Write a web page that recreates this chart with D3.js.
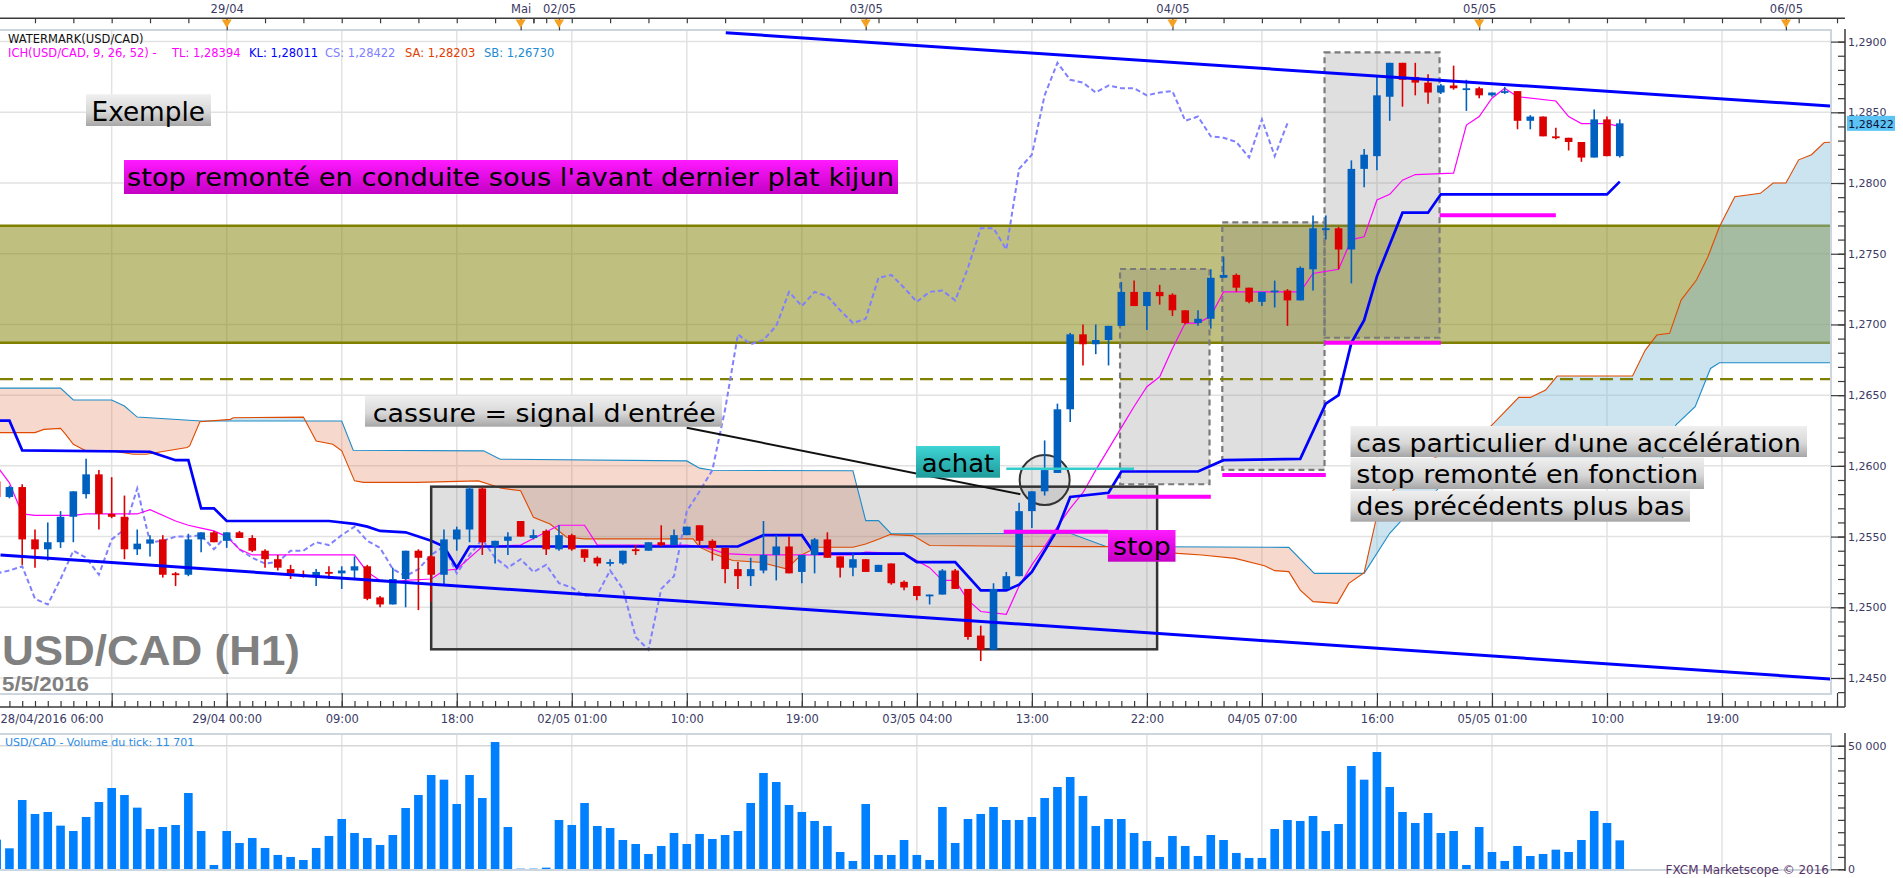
<!DOCTYPE html>
<html>
<head>
<meta charset="utf-8">
<script src="https://cdn.jsdelivr.net/npm/d3@7"></script>
<style>
  body { margin: 0; background: #fff; }
  svg { display: block; font-family: "DejaVu Sans", Verdana, sans-serif; }
</style>
</head>
<body>
<div id="chart"></div>
<script>
// ---- data (USD/CAD H1, bar 0 = 29/04 00:00) ----
const firstBar = -18;
const opens = [1.2589,1.2578,1.2585,1.2548,1.2541,1.2546,1.2564,1.2580,1.2594,1.2566,1.2564,1.2541,1.2545,1.2548,1.2524,1.2523,1.2548,1.2553,
  1.2547,1.2553,1.2549,1.2540,1.2534,1.2527,1.2523,1.2522,1.2525,1.2524,1.2526,1.2529,1.2507,1.2502,1.2520,1.2540,1.2536,1.2523,1.2548,1.2555,
  1.2584,1.2543,1.2547,1.2561,1.2549,1.2554,1.2541,1.2551,1.2541,1.2535,1.2531,1.2531,1.2541,1.2540,1.2546,1.2544,1.2551,1.2558,1.2547,1.2542,
  1.2527,1.2522,1.2526,1.2537,1.2543,1.2525,1.2537,1.2548,1.2536,1.2528,1.2534,1.2525,1.2531,1.2518,1.2515,1.2508,1.2509,1.2526,1.2513,1.2480,
  1.2470,1.2513,1.2522,1.2568,1.2582,1.2595,1.2640,1.2693,1.2686,1.2689,1.2699,1.2723,1.2713,1.2723,1.2721,1.2710,1.2701,1.2704,1.2733,1.2735,
  1.2726,1.2716,1.2723,1.2724,1.2717,1.2739,1.2767,1.2768,1.2753,1.2810,1.2819,1.2861,1.2885,1.2875,1.2871,1.2864,1.2869,1.2866,1.2867,1.2862,
  1.2864,1.2865,1.2844,1.2847,1.2833,1.2832,1.2829,1.2818,1.2845,1.2819];
const highs = [1.2591,1.2586,1.2587,1.2555,1.2560,1.2568,1.2582,1.2605,1.2597,1.2592,1.2579,1.2555,1.2551,1.2551,1.2525,1.2552,1.2553,1.2554,
  1.2553,1.2554,1.2551,1.2541,1.2537,1.2530,1.2526,1.2527,1.2529,1.2529,1.2536,1.2530,1.2508,1.2528,1.2540,1.2541,1.2537,1.2555,1.2557,1.2586,
  1.2585,1.2547,1.2553,1.2561,1.2555,1.2555,1.2558,1.2552,1.2541,1.2536,1.2534,1.2540,1.2544,1.2546,1.2558,1.2555,1.2557,1.2558,1.2548,1.2542,
  1.2532,1.2535,1.2561,1.2551,1.2550,1.2537,1.2549,1.2553,1.2536,1.2538,1.2534,1.2530,1.2531,1.2519,1.2515,1.2509,1.2527,1.2527,1.2513,1.2487,
  1.2517,1.2525,1.2574,1.2582,1.2618,1.2644,1.2694,1.2700,1.2700,1.2699,1.2730,1.2731,1.2723,1.2728,1.2722,1.2710,1.2710,1.2739,1.2748,1.2736,
  1.2726,1.2723,1.2731,1.2725,1.2741,1.2777,1.2777,1.2769,1.2816,1.2824,1.2875,1.2885,1.2885,1.2885,1.2877,1.2870,1.2883,1.2873,1.2868,1.2864,
  1.2868,1.2865,1.2848,1.2847,1.2839,1.2832,1.2829,1.2852,1.2847,1.2845];
const lows = [1.2576,1.2577,1.2530,1.2528,1.2533,1.2542,1.2546,1.2577,1.2555,1.2563,1.2534,1.2537,1.2536,1.2521,1.2515,1.2522,1.2539,1.2546,
  1.2542,1.2549,1.2539,1.2528,1.2526,1.2520,1.2521,1.2515,1.2520,1.2513,1.2520,1.2505,1.2500,1.2502,1.2500,1.2498,1.2504,1.2515,1.2540,1.2546,
  1.2537,1.2531,1.2537,1.2550,1.2548,1.2537,1.2540,1.2540,1.2532,1.2529,1.2529,1.2530,1.2537,1.2540,1.2543,1.2544,1.2551,1.2544,1.2533,1.2517,
  1.2513,1.2515,1.2524,1.2519,1.2524,1.2517,1.2524,1.2535,1.2521,1.2522,1.2525,1.2525,1.2516,1.2512,1.2505,1.2502,1.2509,1.2513,1.2477,1.2462,
  1.2470,1.2513,1.2522,1.2556,1.2579,1.2595,1.2631,1.2671,1.2679,1.2671,1.2699,1.2713,1.2696,1.2714,1.2706,1.2700,1.2699,1.2697,1.2733,1.2723,
  1.2715,1.2713,1.2712,1.2699,1.2717,1.2724,1.2760,1.2739,1.2729,1.2797,1.2809,1.2844,1.2854,1.2862,1.2856,1.2863,1.2866,1.2851,1.2860,1.2861,
  1.2863,1.2838,1.2838,1.2833,1.2831,1.2823,1.2815,1.2818,1.2819,1.2818];
const closes = [1.2578,1.2585,1.2548,1.2541,1.2546,1.2564,1.2582,1.2594,1.2566,1.2564,1.2541,1.2545,1.2548,1.2523,1.2523,1.2548,1.2553,1.2546,
  1.2553,1.2549,1.2540,1.2534,1.2528,1.2524,1.2522,1.2525,1.2524,1.2526,1.2529,1.2506,1.2502,1.2520,1.2540,1.2535,1.2523,1.2548,1.2555,1.2584,
  1.2546,1.2547,1.2550,1.2550,1.2551,1.2541,1.2551,1.2541,1.2535,1.2531,1.2532,1.2540,1.2540,1.2546,1.2544,1.2551,1.2557,1.2547,1.2542,1.2527,
  1.2522,1.2527,1.2537,1.2543,1.2524,1.2537,1.2548,1.2535,1.2528,1.2534,1.2525,1.2530,1.2517,1.2514,1.2508,1.2509,1.2526,1.2513,1.2479,1.2470,
  1.2513,1.2522,1.2568,1.2582,1.2597,1.2640,1.2693,1.2686,1.2689,1.2699,1.2723,1.2713,1.2723,1.2720,1.2710,1.2701,1.2704,1.2733,1.2735,1.2726,
  1.2716,1.2723,1.2724,1.2717,1.2740,1.2768,1.2768,1.2753,1.2810,1.2820,1.2862,1.2885,1.2873,1.2871,1.2864,1.2869,1.2867,1.2867,1.2862,1.2864,
  1.2865,1.2844,1.2847,1.2833,1.2832,1.2829,1.2818,1.2845,1.2819,1.28422];
const volumes = [12000,8490,28040,22380,23190,17660,15500,21160,27230,32890,30060,24940,16310,17120,17930,30870,15500,1750,
  15500,10650,12670,8630,5800,4990,3770,8630,13480,20350,14690,12670,9840,13880,24800,30060,38150,36260,26420,38150,
  28850,51490,17120,270,270,670,19950,17930,26830,17520,16720,11860,10240,6200,9440,14690,10240,14290,12270,13880,
  15500,26830,38960,35320,26020,23190,19550,17520,7010,3370,26420,5800,5800,11860,5800,3770,25210,10650,20350,22380,
  25210,19950,19950,21160,28850,33300,37340,29660,17520,20350,20350,14690,11460,4990,13480,9440,5390,13880,11860,6610,
  4580,4580,16310,19950,19550,21570,15500,18330,41790,36260,47450,33300,23190,18740,22780,14690,15500,1750,17120,7010,
  3370,9440,5390,6200,7950,7010,11860,23590,18740,11701];

// ichimoku lines as [bar, price] points
const kijun = [[-18,1.2632],[-17,1.2632],[-16,1.2611],[-6,1.2610],[-5,1.2607],[-4,1.2604],[-3,1.2604],[-2,1.2570],[-1,1.2570],[0,1.2561],
  [8,1.2561],[10,1.2559],[11,1.2557],[12,1.2554],[14,1.2553],[16,1.2547],[17,1.2543],[18,1.2528],[19,1.2543],[40,1.2543],[42,1.2551],
  [45,1.2551],[46,1.2538],[53,1.2538],[54,1.2532],[57,1.2532],[59,1.2512],[61,1.2512],[62,1.2516],[63,1.2525],[64,1.2540],[65,1.2555],
  [66,1.2578],[69,1.2581],[70,1.2596],[76,1.2596],[78,1.2604],[84,1.2605],[86,1.2644],[87,1.2650],[88,1.2687],[89,1.2703],[90,1.2734],
  [92,1.2779],[94,1.2779],[95,1.2792],[108,1.2792],[109,1.2801]];
const tenkan = [[-18,1.2600],[-17,1.2588],[-16,1.2566],[-15,1.2565],[-12,1.2565],[-11,1.2566],[-7,1.2566],[-6,1.2569],[-4,1.2561],
  [-3,1.2558],[-2,1.2556],[-1,1.2554],[0,1.2550],[1,1.2541],[2,1.2537],[10,1.2537],[11,1.2525],[12,1.2519],[13,1.2518],[14,1.2519],
  [16,1.2520],[17,1.2526],[18,1.2527],[20,1.2543],[23,1.2544],[26,1.2558],[28,1.2558],[29,1.2544],[36,1.2544],[37,1.2543],[38,1.2541],
  [39,1.2538],[41,1.2537],[49,1.2537],[50,1.2539],[53,1.2538],[54,1.2533],[55,1.2528],[56,1.2519],[57,1.2519],[58,1.2505],[59,1.2497],
  [60,1.2496],[61,1.2495],[62,1.2515],[63,1.2530],[64,1.2543],[65,1.2557],[66,1.2570],[67,1.2581],[68,1.2597],[69,1.2612],[70,1.2627],
  [71,1.2642],[72,1.2656],[73,1.2663],[74,1.2683],[75,1.2701],[76,1.2701],[77,1.2706],[78,1.2723],[84,1.2723],[85,1.2736],[87,1.2739],
  [88,1.2760],[89,1.2762],[90,1.2788],[91,1.2792],[92,1.2802],[93,1.2806],[96,1.2807],[97,1.2841],[98,1.2847],[99,1.2860],[100,1.2867],
  [101,1.2861],[104,1.2858],[105,1.2847],[106,1.2842],[108,1.2842],[109,1.2840]];
const senkouA = [[-18,1.26235],[-15,1.26235],[-14.3,1.26258],[-13,1.26265],[-12.6,1.26223],[-12,1.26153],[-11,1.26106],[-9,1.26106],
  [-7.3,1.26082],[-6.3,1.26082],[-3.1,1.2613],[-2.9,1.26141],[-2.1,1.26312],[0.3,1.26329],[0.5,1.2634],[6,1.26345],[7,1.26176],
  [8.3,1.26153],[9,1.26106],[10,1.25894],[10.7,1.25883],[14.9,1.25883],[19.7,1.25894],[20.9,1.25859],[21.4,1.25843],[23,1.25824],
  [24,1.25636],[25.3,1.25589],[26.6,1.25495],[28,1.25484],[36.5,1.25484],[37,1.25425],[38.1,1.25378],[39.6,1.25331],[41.7,1.25319],
  [43.8,1.25272],[44.9,1.25366],[46.2,1.25425],[49,1.25425],[50,1.25448],[51.1,1.25484],[51.9,1.25514],[53.7,1.25507],[55,1.25437],
  [62,1.25432],[66.8,1.25429],[69,1.2543],[74.4,1.25381],[76.3,1.2537],[78.9,1.25346],[81.2,1.25294],[82,1.25259],[83.1,1.25252],
  [84,1.25122],[85,1.2504],[86.9,1.25028],[87.8,1.25169],[89,1.25245],[90,1.2565],[91,1.2580],[92,1.2590],[93,1.2598],[95,1.2608],
  [97,1.2618],[98.9,1.2628],[101.1,1.26484],[102,1.26484],[103.2,1.26536],[104.1,1.26635],[110,1.26635],[111,1.26819],[111.9,1.26925],
  [112.9,1.26937],[113.8,1.27172],[115,1.27314],[115.9,1.27479],[116.8,1.27691],[118,1.27903],[120,1.27927],[121,1.2800],[122,1.2800],
  [123,1.28164],[124,1.2820],[125,1.28286],[126,1.2829]];
const senkouB = [[-18,1.2655],[-13,1.2655],[-12,1.26466],[-9,1.26466],[-8,1.26423],[-7,1.26345],[-2,1.26317],[9,1.26317],[9.9,1.2611],
  [20.1,1.26106],[21.4,1.26047],[36,1.26035],[37,1.25984],[38,1.25969],[49,1.25965],[50,1.25613],[51,1.25613],[52,1.25519],[66,1.25523],
  [68.8,1.2543],[83.1,1.25424],[85.1,1.2524],[89,1.2524],[91,1.25523],[93,1.2572],[94.6,1.2582],[96,1.2596],[112,1.2598],[113.4,1.2629],
  [114.9,1.26418],[116.1,1.26689],[116.8,1.26729],[126,1.26729]];
const chikouShift = 26;

// hand-drawn objects on the chart
const trendUpper = [[39.05,1.29062],[125.5,1.28544]];
const trendLower = [[-17.7,1.2537],[125.5,1.24493]];
const zoneBand = [1.26871, 1.27698];
const dashedLevel = 1.26614;
const solidRect = [16.0, 72.8, 1.24703, 1.25853];
const dashedRects = [[69.9,76.9,1.2587,1.27392],[77.9,85.9,1.25971,1.27722],[85.9,94.9,1.26906,1.28924]];
const stopLines = [[60.8,69,1.25534],[68.9,77,1.25782],[77.9,86,1.25935],[85.9,95,1.26871],[94.9,104,1.27773]];
const achatLine = [61, 71, 1.2598];
const circleAt = [64.0, 1.2590];
const connector = [[36.0,1.2627],[62.1,1.2580]];

// axes labels
const priceTicks = [1.2450,1.2500,1.2550,1.2600,1.2650,1.2700,1.2750,1.2800,1.2850,1.2900];
const timeTickBars = [-18,-9,0,9,18,27,36,45,54,63,72,81,90,99,108,117,126];
const timeTickLabels = ["28/04/2016 06:00","","29/04 00:00","09:00","18:00","02/05 01:00","10:00","19:00","03/05 04:00",
  "13:00","22:00","04/05 07:00","16:00","05/05 01:00","10:00","19:00",""];
const dayBars = [0,23,26,50,74,98,122];
const dayLabels = ["29/04","Mai","02/05","03/05","04/05","05/05","06/05"];
const volumeTicks = [0, 50000];
const volumeTickLabels = ["0", "50 000"];

// ---- layout ----
const W = 1903, H = 878;
const plotR = 1830, plotT = 31, plotB = 693;
const volT = 735, volB = 870;
const axisX = 1845;

const x = d3.scaleLinear().domain([0, 117]).range([226.7, 1722]);
const y = d3.scaleLinear().domain([1.2450, 1.2900]).range([678, 41.6]);
const yv = d3.scaleLinear().domain([0, 50000]).range([869.3, 745.7]);
const fmtP = p => d3.format(".4f")(p).replace(".", ",");

const bars = closes.map((c, i) => ({bar: firstBar + i, o: opens[i], h: highs[i], l: lows[i], c: c, v: volumes[i]}));
const chikou = bars.filter(d => d.bar + chikouShift <= firstBar + closes.length - 1)
                   .map(d => [d.bar, closes[d.bar + chikouShift - firstBar]]);
const lastClose = closes[closes.length - 1];

const svg = d3.select("#chart").append("svg")
  .attr("width", W).attr("height", H).attr("viewBox", [0, 0, W, H]);
const defs = svg.append("defs");

function grad(id, stops) {
  const g = defs.append("linearGradient").attr("id", id)
    .attr("x1", 0).attr("y1", 0).attr("x2", 0).attr("y2", 1);
  stops.forEach(s => g.append("stop").attr("offset", s[0]).attr("stop-color", s[1]));
}
grad("gGrey", [[0, "#efefef"], [0.55, "#d8d8d8"], [1, "#a6a6a6"]]);
grad("gMag", [[0, "#ff1aff"], [1, "#c400c4"]]);
grad("gTeal", [[0, "#3fd4d4"], [1, "#1f9a9a"]]);

defs.append("clipPath").attr("id", "plotClip").append("rect")
  .attr("x", 0).attr("y", plotT).attr("width", plotR).attr("height", plotB - plotT);
defs.append("clipPath").attr("id", "volClip").append("rect")
  .attr("x", 0).attr("y", volT).attr("width", plotR).attr("height", volB - volT);

const line = d3.line().x(d => x(d[0])).y(d => y(d[1]));

// cloud clips: region above / below senkou A
const aFirst = senkouA[0][0], aLast = senkouA[senkouA.length - 1][0];
defs.append("clipPath").attr("id", "aboveA").append("path")
  .attr("d", line(senkouA) + `L${x(aLast) + 50},0L${x(aFirst) - 50},0Z`);
defs.append("clipPath").attr("id", "belowA").append("path")
  .attr("d", line(senkouA) + `L${x(aLast) + 50},${H}L${x(aFirst) - 50},${H}Z`);

// ---- panel backgrounds & grid ----
const grid = svg.append("g").attr("stroke", "#e2e2e2").attr("stroke-width", 1.5);
grid.selectAll(".hg").data(priceTicks).join("line")
  .attr("x1", 0).attr("x2", plotR).attr("y1", d => y(d)).attr("y2", d => y(d));
grid.selectAll(".vg").data(timeTickBars.filter(b => x(b) > 0 && x(b) < plotR)).join("line")
  .attr("x1", d => x(d)).attr("x2", d => x(d)).attr("y1", plotT).attr("y2", plotB);
grid.selectAll(".vvg").data(timeTickBars.filter(b => x(b) > 0 && x(b) < plotR)).join("line")
  .attr("x1", d => x(d)).attr("x2", d => x(d)).attr("y1", volT).attr("y2", volB);
grid.append("line").attr("x1", 0).attr("x2", plotR).attr("y1", yv(50000)).attr("y2", yv(50000)).attr("stroke", "#d6d6d6");

// watermark
svg.append("text").attr("x", 2).attr("y", 665).attr("fill", "#808080")
  .style("font-family", "'Liberation Sans', Arial, sans-serif").style("font-weight", "bold").style("font-size", "42px")
  .attr("textLength", 298).attr("lengthAdjust", "spacingAndGlyphs").text("USD/CAD (H1)");
svg.append("text").attr("x", 2).attr("y", 691).attr("fill", "#808080")
  .style("font-family", "'Liberation Sans', Arial, sans-serif").style("font-weight", "bold").style("font-size", "21px")
  .attr("textLength", 87).attr("lengthAdjust", "spacingAndGlyphs").text("5/5/2016");

const main = svg.append("g").attr("clip-path", "url(#plotClip)");

// olive resistance zone
main.append("rect").attr("x", 0).attr("width", plotR)
  .attr("y", y(zoneBand[1])).attr("height", y(zoneBand[0]) - y(zoneBand[1]))
  .attr("fill", "rgba(128,128,0,0.5)");
main.selectAll(".zb").data(zoneBand).join("line")
  .attr("x1", 0).attr("x2", plotR).attr("y1", d => y(d)).attr("y2", d => y(d))
  .attr("stroke", "#7f7f00").attr("stroke-width", 2.5);

// kumo
const cloudPoly = line(senkouA.concat(senkouB.slice().reverse())) + "Z";
main.append("path").attr("d", cloudPoly).attr("fill", "rgba(225,125,85,0.3)").attr("clip-path", "url(#aboveA)");
main.append("path").attr("d", cloudPoly).attr("fill", "rgba(128,185,218,0.4)").attr("clip-path", "url(#belowA)");

// grey rectangles
main.append("rect")
  .attr("x", x(solidRect[0])).attr("width", x(solidRect[1]) - x(solidRect[0]))
  .attr("y", y(solidRect[3])).attr("height", y(solidRect[2]) - y(solidRect[3]))
  .attr("fill", "rgba(128,128,128,0.25)");
main.selectAll(".dr").data(dashedRects).join("rect")
  .attr("x", d => x(d[0])).attr("width", d => x(d[1]) - x(d[0]))
  .attr("y", d => y(d[3])).attr("height", d => y(d[2]) - y(d[3]))
  .attr("fill", "rgba(128,128,128,0.25)")
  .attr("stroke", "#7a7a7a").attr("stroke-width", 2.2).attr("stroke-dasharray", "6,4");

// dashed olive level
main.append("line").attr("x1", 0).attr("x2", plotR).attr("y1", y(dashedLevel)).attr("y2", y(dashedLevel))
  .attr("stroke", "#808000").attr("stroke-width", 2.2).attr("stroke-dasharray", "13,7");

// circle around the breakout
main.append("circle").attr("cx", x(circleAt[0])).attr("cy", y(circleAt[1])).attr("r", 25)
  .attr("fill", "rgba(128,128,128,0.2)").attr("stroke", "#333").attr("stroke-width", 2);

// ichimoku lines
main.append("path").attr("d", line(senkouB)).attr("fill", "none").attr("stroke", "#1e8cc8").attr("stroke-width", 1.1);
main.append("path").attr("d", line(senkouA)).attr("fill", "none").attr("stroke", "#e04a00").attr("stroke-width", 1.1);
main.append("path").attr("d", line(chikou)).attr("fill", "none").attr("stroke", "#8080ff")
  .attr("stroke-width", 2).attr("stroke-dasharray", "5,3");
main.append("path").attr("d", line(tenkan)).attr("fill", "none").attr("stroke", "#ff00ff").attr("stroke-width", 1.2);
main.append("path").attr("d", line(kijun)).attr("fill", "none").attr("stroke", "#0000ff").attr("stroke-width", 2.7);

// solid frame of the consolidation box
main.append("rect")
  .attr("x", x(solidRect[0])).attr("width", x(solidRect[1]) - x(solidRect[0]))
  .attr("y", y(solidRect[3])).attr("height", y(solidRect[2]) - y(solidRect[3]))
  .attr("fill", "none").attr("stroke", "#333").attr("stroke-width", 2.5);

// candles
const up = "#0060c0", down = "#dd0000";
const candle = main.append("g").selectAll("g").data(bars).join("g")
  .attr("fill", d => d.c >= d.o ? up : down).attr("stroke", d => d.c >= d.o ? up : down);
candle.append("line")
  .attr("x1", d => x(d.bar)).attr("x2", d => x(d.bar))
  .attr("y1", d => y(d.h)).attr("y2", d => y(d.l)).attr("stroke-width", 1.6);
candle.append("rect")
  .attr("x", d => x(d.bar) - 3.8).attr("width", 7.6)
  .attr("y", d => Math.min(y(d.o), y(d.c)))
  .attr("height", d => Math.max(1.8, Math.abs(y(d.o) - y(d.c))))
  .attr("stroke", "none");

// trend lines
main.selectAll(".tl").data([trendUpper, trendLower]).join("path")
  .attr("d", d => line(d)).attr("fill", "none").attr("stroke", "#0000ff").attr("stroke-width", 3);

// stop levels, entry level, connector
main.selectAll(".sl").data(stopLines).join("line")
  .attr("x1", d => x(d[0])).attr("x2", d => x(d[1])).attr("y1", d => y(d[2])).attr("y2", d => y(d[2]))
  .attr("stroke", "#ff00ff").attr("stroke-width", 4);
main.append("line").attr("x1", x(achatLine[0])).attr("x2", x(achatLine[1]))
  .attr("y1", y(achatLine[2])).attr("y2", y(achatLine[2])).attr("stroke", "#33cccc").attr("stroke-width", 2.5);
main.append("path").attr("d", line(connector)).attr("stroke", "#111").attr("stroke-width", 2).attr("fill", "none");

// ---- volume panel ----
svg.append("g").attr("clip-path", "url(#volClip)").selectAll("rect").data(bars).join("rect")
  .attr("x", d => x(d.bar) - 4.3).attr("width", 8.6)
  .attr("y", d => yv(d.v)).attr("height", d => yv(0) - yv(d.v))
  .attr("fill", "#0080ff");

// panel borders
const border = svg.append("g").attr("fill", "none").attr("stroke", "#cdd5df").attr("stroke-width", 2);
border.append("path").attr("d", `M0,${plotT - 1}H${plotR + 1}V${plotB + 1}H0`);
border.append("path").attr("d", `M0,${volT - 1}H${plotR + 1}V${volB}H0`);

// ---- axes ----
function styleAxis(g, size) {
  g.select(".domain").remove();
  g.selectAll(".tick line").attr("stroke", "#3a3a3a").attr("stroke-width", 1.2);
  g.selectAll(".tick text").attr("fill", "#3a3a64")
    .style("font-family", "'DejaVu Sans', Verdana, sans-serif").style("font-size", size || "11px");
}
const axisLines = svg.append("g").attr("stroke", "#3a3a3a").attr("stroke-width", 1.5);
axisLines.append("line").attr("x1", axisX).attr("x2", axisX).attr("y1", plotT - 2).attr("y2", 707);
axisLines.append("line").attr("x1", axisX).attr("x2", axisX).attr("y1", volT - 2).attr("y2", volB + 1);
axisLines.append("line").attr("x1", 0).attr("x2", axisX).attr("y1", 707).attr("y2", 707);
axisLines.append("line").attr("x1", 0).attr("x2", axisX).attr("y1", 18.3).attr("y2", 18.3);

// right price axis
const minorPrices = d3.range(1244, 1291).map(v => v / 1000);
svg.append("g").attr("transform", `translate(${axisX},0)`)
  .call(d3.axisRight(y).tickValues(minorPrices).tickSize(-7).tickFormat(""))
  .call(g => styleAxis(g));
svg.append("g").attr("transform", `translate(${axisX},0)`)
  .call(d3.axisRight(y).tickValues(priceTicks).tickSize(-14).tickPadding(3).tickFormat(fmtP))
  .call(g => styleAxis(g));

// volume axis
svg.append("g").attr("transform", `translate(${axisX},0)`)
  .call(d3.axisRight(yv).tickValues(d3.range(0, 50001, 5000)).tickSize(-7).tickFormat(""))
  .call(g => styleAxis(g));
svg.append("g").attr("transform", `translate(${axisX},0)`)
  .call(d3.axisRight(yv).tickValues(volumeTicks).tickSize(-14).tickPadding(3)
    .tickFormat((d, i) => volumeTickLabels[i]))
  .call(g => styleAxis(g));

// bottom time axis
svg.append("g").attr("transform", "translate(0,707)")
  .call(d3.axisBottom(x).tickValues(d3.range(-18, 127)).tickSize(-6).tickFormat(""))
  .call(g => styleAxis(g));
svg.append("g").attr("transform", "translate(0,707)")
  .call(d3.axisBottom(x).tickValues(timeTickBars).tickSize(-14).tickPadding(8)
    .tickFormat((d, i) => timeTickLabels[i]))
  .call(g => styleAxis(g, "11.5px"))
  .call(g => g.selectAll(".tick text").filter(d => d === firstBar)
    .attr("text-anchor", "start").attr("x", -x(firstBar)));

// top date axis
svg.append("g").attr("transform", "translate(0,18.3)")
  .call(d3.axisTop(x).tickValues(d3.range(-18, 127, 3).concat([24, 25])).tickSize(-5).tickFormat(""))
  .call(g => styleAxis(g));
svg.append("g").attr("transform", "translate(0,18.3)")
  .call(d3.axisTop(x).tickValues(dayBars).tickSize(-12).tickPadding(5).tickFormat((d, i) => dayLabels[i]))
  .call(g => styleAxis(g, "11.5px"));
svg.append("g").selectAll("path").data(dayBars).join("path")
  .attr("d", d => `M${x(d) - 5},19.5L${x(d) + 5},19.5L${x(d)},28Z`).attr("fill", "#f5a020");

// current price tag
svg.append("rect").attr("x", 1847).attr("y", y(lastClose) - 7.5)
  .attr("width", 48).attr("height", 15).attr("fill", "#5cc4f4");
svg.append("text").attr("x", 1871).attr("y", y(lastClose) + 4.2).attr("text-anchor", "middle")
  .attr("fill", "#10103a").style("font-size", "11px")
  .text(d3.format(".5f")(lastClose).replace(".", ","));

// ---- legend / captions ----
svg.append("text").attr("x", 8).attr("y", 43).style("font-size", "11.5px").attr("fill", "#111")
  .text("WATERMARK(USD/CAD)");
const legendParts = [
  [8, "#ff00ff", "ICH(USD/CAD, 9, 26, 52) -"],
  [172, "#ff00ff", "TL: 1,28394"],
  [249, "#0000ff", "KL: 1,28011"],
  [325, "#8080ff", "CS: 1,28422"],
  [405, "#e04000", "SA: 1,28203"],
  [484, "#1e8cd0", "SB: 1,26730"]];
svg.append("g").selectAll("text").data(legendParts).join("text")
  .attr("x", d => d[0]).attr("y", 56.5).attr("fill", d => d[1]).style("font-size", "11.5px").text(d => d[2]);

svg.append("text").attr("x", 5).attr("y", 746).attr("fill", "#2d8ce6").style("font-size", "11px")
  .text("USD/CAD - Volume du tick: 11 701");
svg.append("text").attr("x", 1829).attr("y", 874).attr("text-anchor", "end").attr("fill", "#553366")
  .style("font-size", "12px").text("FXCM Marketscope \u00a9 2016");

// annotation boxes
function noteBox(x0, y0, w, h, fill, label, tx, tlen, size, base) {
  const g = svg.append("g");
  g.append("rect").attr("x", x0).attr("y", y0).attr("width", w).attr("height", h).attr("fill", fill);
  g.append("text").attr("x", tx).attr("y", y0 + (base || 25.5)).attr("fill", "#000")
    .style("font-size", (size || 25) + "px")
    .attr("textLength", tlen).attr("lengthAdjust", "spacingAndGlyphs").text(label);
}
noteBox(86, 94.3, 125, 31.7, "url(#gGrey)", "Exemple", 91.5, 113.5, 27, 26.4);
noteBox(124, 160, 774, 34, "url(#gMag)", "stop remonté en conduite sous l'avant dernier plat kijun", 127, 767, 25, 25.5);
noteBox(365, 396, 357, 30.7, "url(#gGrey)", "cassure = signal d'entrée", 372.7, 343, 25, 25.5);
noteBox(916, 446, 84, 31.7, "url(#gTeal)", "achat", 921.7, 72.6, 25, 25.5);
noteBox(1108, 530, 67.5, 31.7, "url(#gMag)", "stop", 1113, 57.6, 25, 25);
noteBox(1350.5, 426, 456.5, 31, "url(#gGrey)", "cas particulier d'une accélération", 1356.3, 444.5, 25, 25.5);
noteBox(1350.5, 457.7, 353.5, 31.3, "url(#gGrey)", "stop remonté en fonction", 1356.3, 341.7, 25, 25);
noteBox(1350.5, 490.7, 339.5, 31, "url(#gGrey)", "des précédents plus bas", 1356.3, 328, 25, 24);
</script>
</body>
</html>
